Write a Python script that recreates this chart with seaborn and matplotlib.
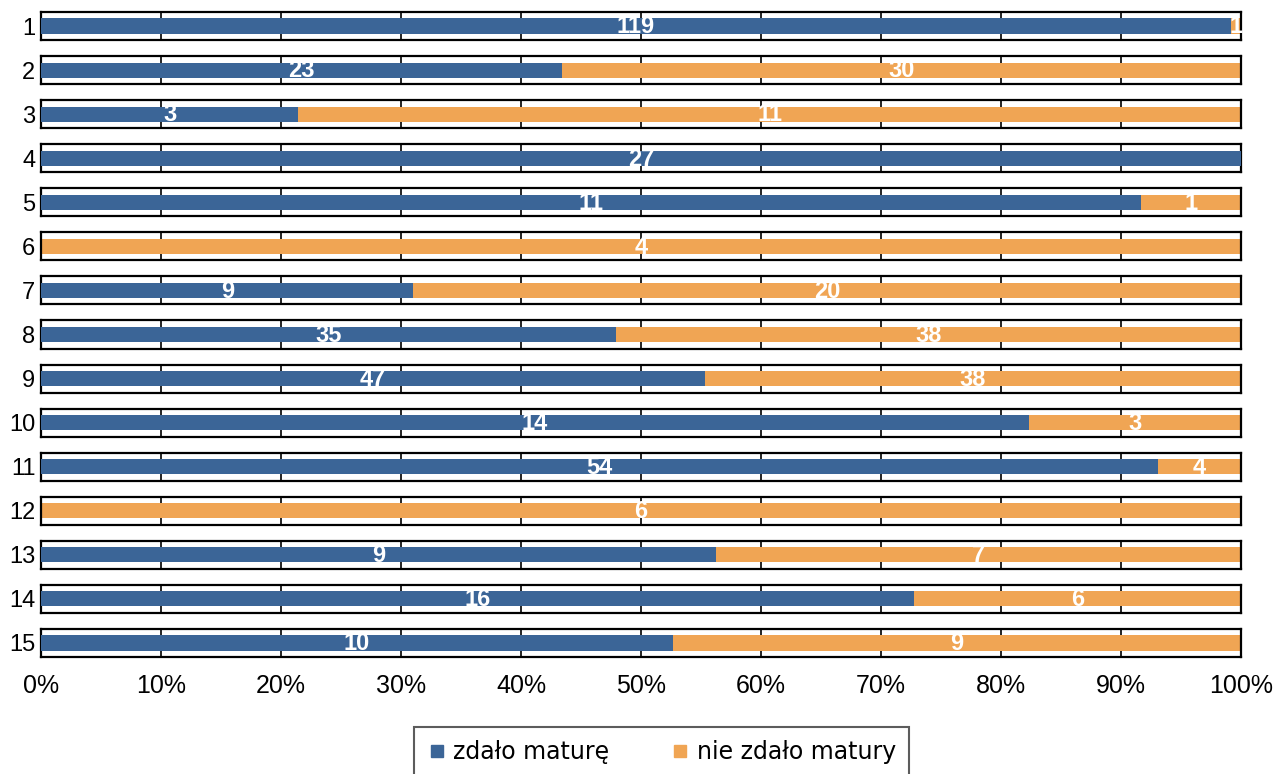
import pandas as pd
import numpy as np
import matplotlib.pyplot as plt
import seaborn as sns
from matplotlib.lines import Line2D

# data
rows = ['1', '2', '3', '4', '5', '6', '7', '8', '9', '10', '11', '12', '13', '14', '15']
passed = [119, 23, 3, 27, 11, 0, 9, 35, 47, 14, 54, 0, 9, 16, 10]
failed = [1, 30, 11, 0, 1, 4, 20, 38, 38, 3, 4, 6, 7, 6, 9]
series_names = ['zdało maturę', 'nie zdało matury']
x_ticks = [0, 10, 20, 30, 40, 50, 60, 70, 80, 90, 100]

BLUE = '#3B6597'
ORANGE = '#F0A554'

df = pd.DataFrame({'row': rows, 'passed': passed, 'failed': failed})
df['total'] = df['passed'] + df['failed']
df['pct_passed'] = df['passed'] / df['total'] * 100
df['pct_full'] = 100.0

sns.set_style('white')
plt.rcParams['font.family'] = ['Liberation Sans', 'DejaVu Sans']
plt.rcParams['text.color'] = 'black'
plt.rcParams['xtick.color'] = 'black'
plt.rcParams['ytick.color'] = 'black'

W, H = 1282, 774
fig, axes = plt.subplots(len(rows), 1, figsize=(W / 100, H / 100), dpi=100, sharex=True)
fig.subplots_adjust(left=41 / W, right=1241 / W, top=1 - 12 / H, bottom=1 - 657 / H,
                    hspace=16 / 28)

for i, ax in enumerate(axes):
    r = df.iloc[[i]]
    sns.barplot(data=r, x='pct_full', y='row', color=ORANGE, orient='h',
                width=0.54, saturation=1, linewidth=0, ax=ax, zorder=2)
    sns.barplot(data=r, x='pct_passed', y='row', color=BLUE, orient='h',
                width=0.54, saturation=1, linewidth=0, ax=ax, zorder=3)
    orange_bar = ax.patches[0]
    p = r['pct_passed'].iloc[0]
    # labels clipped to the bar band like in the original
    if r['passed'].iloc[0] > 0:
        t = ax.text(p / 2, 0.03, str(r['passed'].iloc[0]), color='white', fontweight='bold',
                    fontsize=17, ha='center', va='center', zorder=5)
        t.set_clip_path(orange_bar)
    if r['failed'].iloc[0] > 0:
        t = ax.text((p + 100) / 2, 0.03, str(r['failed'].iloc[0]), color='white',
                    fontweight='bold', fontsize=17, ha='center', va='center', zorder=5)
        t.set_clip_path(orange_bar)
    ax.set_xlim(0, 100)
    ax.set_ylim(0.5, -0.5)
    ax.set_xticks(x_ticks)
    ax.xaxis.grid(True, color='black', linewidth=1.2)
    ax.set_axisbelow(True)
    ax.set_xlabel('')
    ax.set_ylabel('')
    ax.tick_params(axis='y', length=0, pad=4, labelsize=17)
    ax.tick_params(axis='x', length=0)
    for s in ax.spines.values():
        s.set_visible(True)
        s.set_color('black')
        s.set_linewidth(1.6)

axes[-1].set_xticklabels([f'{t}%' for t in x_ticks])
axes[-1].tick_params(axis='x', labelsize=18, pad=12)

handles = [Line2D([], [], marker='s', linestyle='', color=c, markersize=8)
           for c in (BLUE, ORANGE)]
leg = fig.legend(handles, series_names, loc='upper center', bbox_to_anchor=(0.516, 1 - 727 / H),
                 ncol=2, frameon=True, fancybox=False, borderpad=0.55, borderaxespad=0,
                 handletextpad=0.3, columnspacing=2.6, handlelength=0.8,
                 prop={'family': 'DejaVu Sans', 'size': 17})
leg.get_frame().set_edgecolor('#333333')
leg.get_frame().set_linewidth(1.5)

fig.savefig('out.png', dpi=100)
